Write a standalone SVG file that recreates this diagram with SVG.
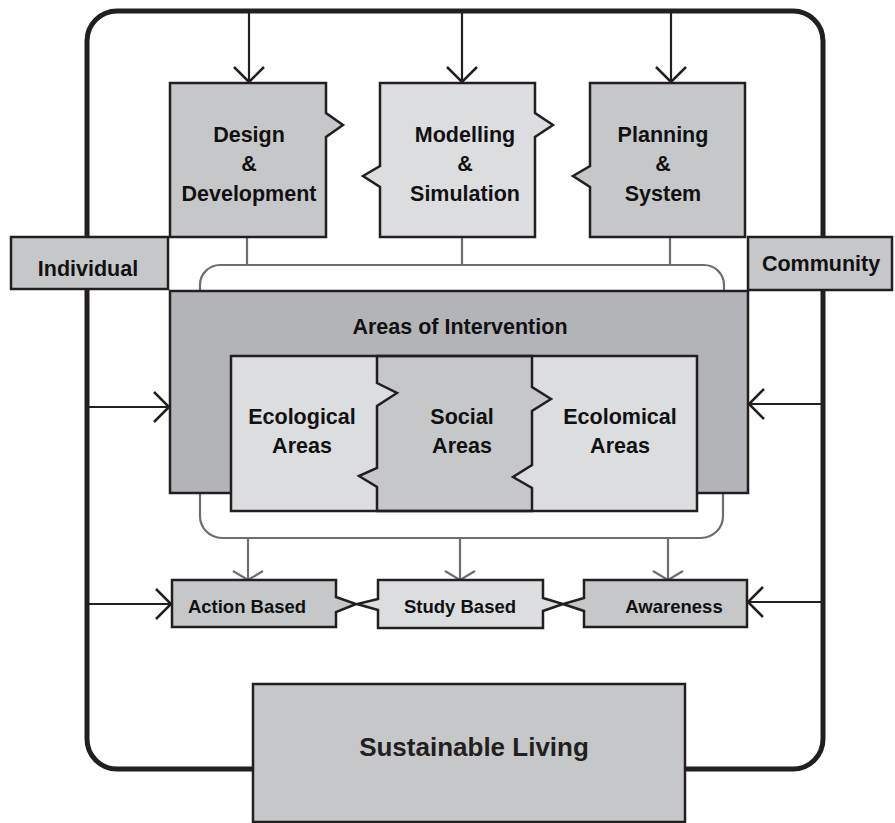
<svg xmlns="http://www.w3.org/2000/svg" width="895" height="823" viewBox="0 0 895 823">
<style>
.box{stroke:#231f20;stroke-width:2.5;stroke-linejoin:miter}
.dark{fill:#c6c7c9}
.light{fill:#dcdddf}
.big{fill:#b3b4b7}
.ln{stroke:#231f20;stroke-width:2.2;fill:none}
.gl{stroke:#6d6e71;stroke-width:2.2;fill:none}
text{font-family:"Liberation Sans",Arial,Helvetica,sans-serif;font-weight:bold;fill:#111;text-anchor:middle}
.t21{font-size:21.5px}
.t18{font-size:18.5px}
.t26{font-size:26px;fill:#231f20}
</style>
<defs>
<marker id="ab" markerUnits="userSpaceOnUse" viewBox="-18 -18 21 36" refX="0" refY="0" markerWidth="21" markerHeight="36" orient="auto">
<path d="M-15,-15 L0,0 L-15,15" fill="none" stroke="#231f20" stroke-width="2.5"/>
</marker>
<marker id="ag" markerUnits="userSpaceOnUse" viewBox="-12 -18 15 36" refX="0" refY="0" markerWidth="15" markerHeight="36" orient="auto">
<path d="M-9,-15 L0,0 L-9,15" fill="none" stroke="#6d6e71" stroke-width="2.2"/>
</marker>
</defs>

<g id="frame">
<rect x="87" y="11" width="736" height="758" rx="30" ry="30" fill="none" stroke="#231f20" stroke-width="5"/>
</g>

<g id="connectors">
<line class="ln" x1="249" y1="11" x2="249" y2="82" marker-end="url(#ab)"/>
<line class="ln" x1="462" y1="11" x2="462" y2="82" marker-end="url(#ab)"/>
<line class="ln" x1="671" y1="11" x2="671" y2="82" marker-end="url(#ab)"/>
<line class="ln" x1="87" y1="407" x2="169" y2="407" marker-end="url(#ab)"/>
<line class="ln" x1="823" y1="404" x2="749" y2="404" marker-end="url(#ab)"/>
<line class="ln" x1="87" y1="604" x2="171" y2="604" marker-end="url(#ab)"/>
<line class="ln" x1="823" y1="602" x2="748" y2="602" marker-end="url(#ab)"/>
<line class="gl" x1="247" y1="237" x2="247" y2="265"/>
<line class="gl" x1="462" y1="237" x2="462" y2="265"/>
<line class="gl" x1="670" y1="237" x2="670" y2="265"/>
<path class="gl" d="M200,291 V285 A20,20 0 0 1 220,265 H704 A20,20 0 0 1 724,285 V291"/>
<path class="gl" d="M200,493 V516 A22,22 0 0 0 222,538 H701 A22,22 0 0 0 723,516 V493"/>
<line class="gl" x1="248" y1="538" x2="248" y2="580" marker-end="url(#ag)"/>
<line class="gl" x1="460" y1="538" x2="460" y2="580" marker-end="url(#ag)"/>
<line class="gl" x1="668" y1="538" x2="668" y2="580" marker-end="url(#ag)"/>
</g>

<g id="design">
<path class="box dark" d="M170,83 H326 V113 L343,125 L326,137 V237 H170 Z"/>
<text class="t21" x="249" y="142">Design</text>
<text class="t21" x="249" y="171">&amp;</text>
<text class="t21" x="249" y="201">Development</text>
</g>

<g id="modelling">
<path class="box light" d="M380,83 H535 V113 L553,125 L535,137 V237 H380 V187 L363,176 L380,166 Z"/>
<text class="t21" x="465" y="142">Modelling</text>
<text class="t21" x="465" y="171">&amp;</text>
<text class="t21" x="465" y="201">Simulation</text>
</g>

<g id="planning">
<path class="box dark" d="M590,83 H745 V237 H590 V187 L573,176 L590,166 Z"/>
<text class="t21" x="663" y="142">Planning</text>
<text class="t21" x="663" y="171">&amp;</text>
<text class="t21" x="663" y="201">System</text>
</g>

<g id="individual">
<rect class="box dark" x="11" y="237" width="157" height="52"/>
<text class="t21" x="88" y="276">Individual</text>
</g>

<g id="community">
<rect class="box dark" x="748" y="237" width="144" height="53"/>
<text class="t21" x="821" y="271">Community</text>
</g>

<g id="areas-of-intervention">
<rect class="box big" x="170" y="291" width="578" height="202"/>
<text class="t21" x="460" y="334">Areas of Intervention</text>
</g>

<g id="ecological-areas">
<rect class="light" x="231" y="356" width="466" height="155"/>
<text class="t21" x="302" y="424">Ecological</text>
<text class="t21" x="302" y="453">Areas</text>
</g>

<g id="social-areas">
<path class="box dark" d="M377,356 H532 V387 L551,399 L532,411 V465 L513,477 L532,488 V511 H377 V487 L359,476 L377,468 V406 L397,393 L377,383 Z"/>
<text class="t21" x="462" y="424">Social</text>
<text class="t21" x="462" y="453">Areas</text>
</g>

<g id="ecolomical-areas">
<rect x="231" y="356" width="466" height="155" fill="none" stroke="#231f20" stroke-width="2.5"/>
<text class="t21" x="620" y="424">Ecolomical</text>
<text class="t21" x="620" y="453">Areas</text>
</g>

<g id="action-based">
<path class="box dark" d="M172,580 H336 V597 L356,604 L336,612 V627 H172 Z"/>
<text class="t18" x="247" y="613">Action Based</text>
</g>

<g id="study-based">
<path class="box light" d="M378,580 H543 V598 L563,604 L543,611 V628 H378 V610 L357,604 L378,599 Z"/>
<text class="t18" x="460" y="613">Study Based</text>
</g>

<g id="awareness">
<path class="box dark" d="M584,580 H747 V627 H584 V611 L563,604 L584,598 Z"/>
<text class="t18" x="674" y="613">Awareness</text>
</g>

<g id="sustainable-living">
<rect class="box dark" x="253" y="684" width="432" height="138"/>
<text class="t26" x="474" y="756">Sustainable Living</text>
</g>
</svg>
